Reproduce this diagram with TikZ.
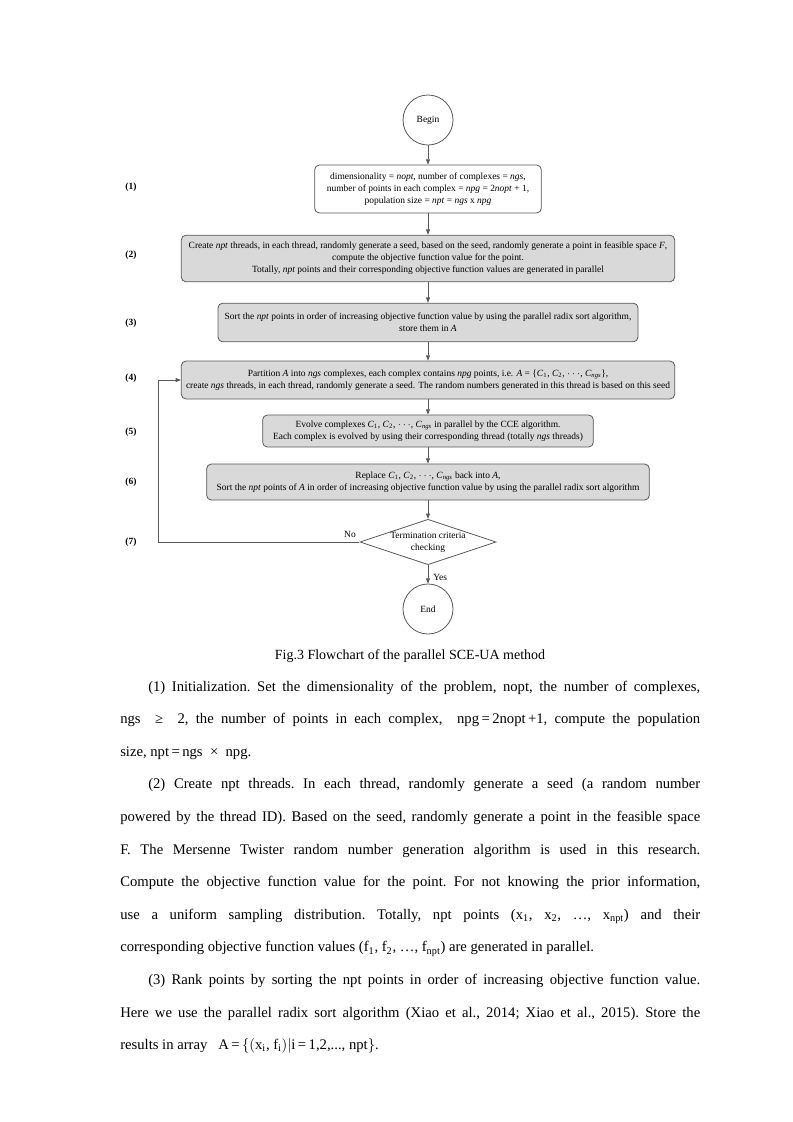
\documentclass[tikz,border=0pt]{standalone}
\usepackage{fontspec}
\setmainfont{Liberation Serif}
\usetikzlibrary{shapes.geometric,arrows.meta}
\definecolor{boxgray}{RGB}{217,217,217}
\definecolor{edgegray}{RGB}{90,90,90}
\newlength\tw \setlength\tw{435pt}
\newlength\tiw \setlength\tiw{414pt}
\newcommand\fcf{\fontsize{7.1}{9}\selectfont}
\newcommand\bdf{\fontsize{11}{13}\selectfont\frenchspacing}
\newcommand\cpf{\fontsize{10.5}{12}\selectfont}
\newcommand\jl[1]{\hbox to \tw{#1}}
\newcommand\ji[1]{\hbox to \tiw{#1}}
\begin{document}
\begin{tikzpicture}[x=0.75pt,y=-0.75pt,
  box/.style={draw=edgegray, line width=0.6pt, rounded corners=3.5pt, align=center, font=\fcf, inner sep=0pt},
  graybox/.style={box, fill=boxgray},
  term/.style={circle, draw=edgegray, line width=0.6pt, minimum size=37.5pt, font=\fcf, inner sep=0pt},
  dec/.style={diamond, draw=edgegray, line width=0.6pt, minimum width=97.5pt, minimum height=33pt, font=\fcf, align=center, inner sep=0pt, aspect=3},
  conn/.style={draw=edgegray, line width=0.6pt, -{Triangle[length=4pt,width=3pt]}},
  steplabel/.style={font=\fcf\bfseries, inner sep=0pt},
  edgelabel/.style={font=\fcf, inner sep=0pt},
  txt/.style={anchor=base west, inner sep=0pt, font=\bdf}
]
\fill[white] (0,0) rectangle (793,1122);
\useasboundingbox (0,0) rectangle (793,1122);

% flowchart
\node[term] (begin) at (428,120) {Begin};
\node[box, minimum width=170pt, minimum height=36pt] (b1) at (428,189)
  {dimensionality = \textit{nopt}, number of complexes = \textit{ngs},\\
   number of points in each complex = \textit{npg} = 2\textit{nopt} + 1,\\
   population size = \textit{npt} = \textit{ngs} x \textit{npg}};
\node[graybox, minimum width=370pt, minimum height=35pt] (b2) at (428,258.5)
  {Create \textit{npt} threads, in each thread, randomly generate a seed, based on the seed, randomly generate a point in feasible space \textit{F},\\
   compute the objective function value for the point.\\
   Totally, \textit{npt} points and their corresponding objective function values are generated in parallel};
\node[graybox, minimum width=315pt, minimum height=29pt] (b3) at (428,322.5)
  {Sort the \textit{npt} points in order of increasing objective function value by using the parallel radix sort algorithm,\\
   store them in \textit{A}};
\node[graybox, minimum width=370pt, minimum height=28.5pt] (b4) at (428,380)
  {Partition \textit{A} into \textit{ngs} complexes, each complex contains \textit{npg} points, i.e. \textit{A} = \{\textit{C}\textsubscript{1}, \textit{C}\textsubscript{2}, $\cdots$, \textit{C}\textsubscript{\textit{ngs}}\},\\
   create \textit{ngs} threads, in each thread, randomly generate a seed. The random numbers generated in this thread is based on this seed};
\node[graybox, minimum width=248pt, minimum height=24pt] (b5) at (428,431)
  {Evolve complexes \textit{C}\textsubscript{1}, \textit{C}\textsubscript{2}, $\cdots$, \textit{C}\textsubscript{\textit{ngs}} in parallel by the CCE algorithm.\\
   Each complex is evolved by using their corresponding thread (totally \textit{ngs} threads)};
\node[graybox, minimum width=332pt, minimum height=27pt] (b6) at (428,482)
  {Replace \textit{C}\textsubscript{1}, \textit{C}\textsubscript{2}, $\cdots$, \textit{C}\textsubscript{\textit{ngs}} back into \textit{A},\\
   Sort the \textit{npt} points of \textit{A} in order of increasing objective function value by using the parallel radix sort algorithm};
\node[dec] (dec) at (428,542) {Termination criteria\\checking};
\node[term] (end) at (428,609) {End};

\draw[conn] (begin) -- (b1);
\draw[conn] (b1) -- (b2);
\draw[conn] (b2) -- (b3);
\draw[conn] (b3) -- (b4);
\draw[conn] (b4) -- (b5);
\draw[conn] (b5) -- (b6);
\draw[conn] (b6) -- (dec);
\draw[conn] (dec) -- (end);
\coordinate (lp1) at (158,542);
\coordinate (lp2) at (158,380);
\draw[conn] (dec.west) -- (lp1) -- (lp2) -- (b4.west);

\node[edgelabel, anchor=west] (yes) at (433,577) {Yes};
\node[edgelabel] (no) at (350,534) {No};

\node[steplabel] (s1) at (131,187) {(1)};
\node[steplabel] (s2) at (131,255) {(2)};
\node[steplabel] (s3) at (131,323) {(3)};
\node[steplabel] (s4) at (131,378) {(4)};
\node[steplabel] (s5) at (131,432) {(5)};
\node[steplabel] (s6) at (131,482) {(6)};
\node[steplabel] (s7) at (131,542) {(7)};

% caption
\node[anchor=base, inner sep=0pt, font=\cpf] (cap) at (410,659) {Fig.3 Flowchart of the parallel SCE-UA method};

% body text
\node[txt] (l1) at (148,691) {\ji{(1) Initialization. Set the dimensionality of the problem, nopt, the number of complexes,}};
\node[txt] (l2) at (120,723.6) {\jl{ngs \ ≥ \ 2, the number of points in each complex, \ npg\,=\,2nopt\,+1, compute the population}};
\node[txt] (l3) at (120,756.2) {size, npt\,=\,ngs \ × \ npg.};
\node[txt] (l4) at (148,788.8) {\ji{(2) Create npt threads. In each thread, randomly generate a seed (a random number}};
\node[txt] (l5) at (120,821.4) {\jl{powered by the thread ID). Based on the seed, randomly generate a point in the feasible space}};
\node[txt] (l6) at (120,854) {\jl{F. The Mersenne Twister random number generation algorithm is used in this research.}};
\node[txt] (l7) at (120,886.6) {\jl{Compute the objective function value for the point. For not knowing the prior information,}};
\node[txt] (l8) at (120,919.2) {\jl{use a uniform sampling distribution. Totally, npt points (x\textsubscript{1}, x\textsubscript{2}, …, x\textsubscript{npt}) and their}};
\node[txt] (l9) at (120,951.8) {corresponding objective function values (f\textsubscript{1}, f\textsubscript{2}, …, f\textsubscript{npt}) are generated in parallel.};
\node[txt] (l10) at (148,984.4) {\ji{(3) Rank points by sorting the npt points in order of increasing objective function value.}};
\node[txt] (l11) at (120,1017) {\jl{Here we use the parallel radix sort algorithm (Xiao et al., 2014; Xiao et al., 2015). Store the}};
\node[txt] (l12) at (120,1049.6) {results in array \ \ A\,=\,$\bigl\{\bigl($x\textsubscript{i}, f\textsubscript{i}$\bigr)\big|$i\,=\,1,2,..., npt$\bigr\}$.};
\end{tikzpicture}
\end{document}
